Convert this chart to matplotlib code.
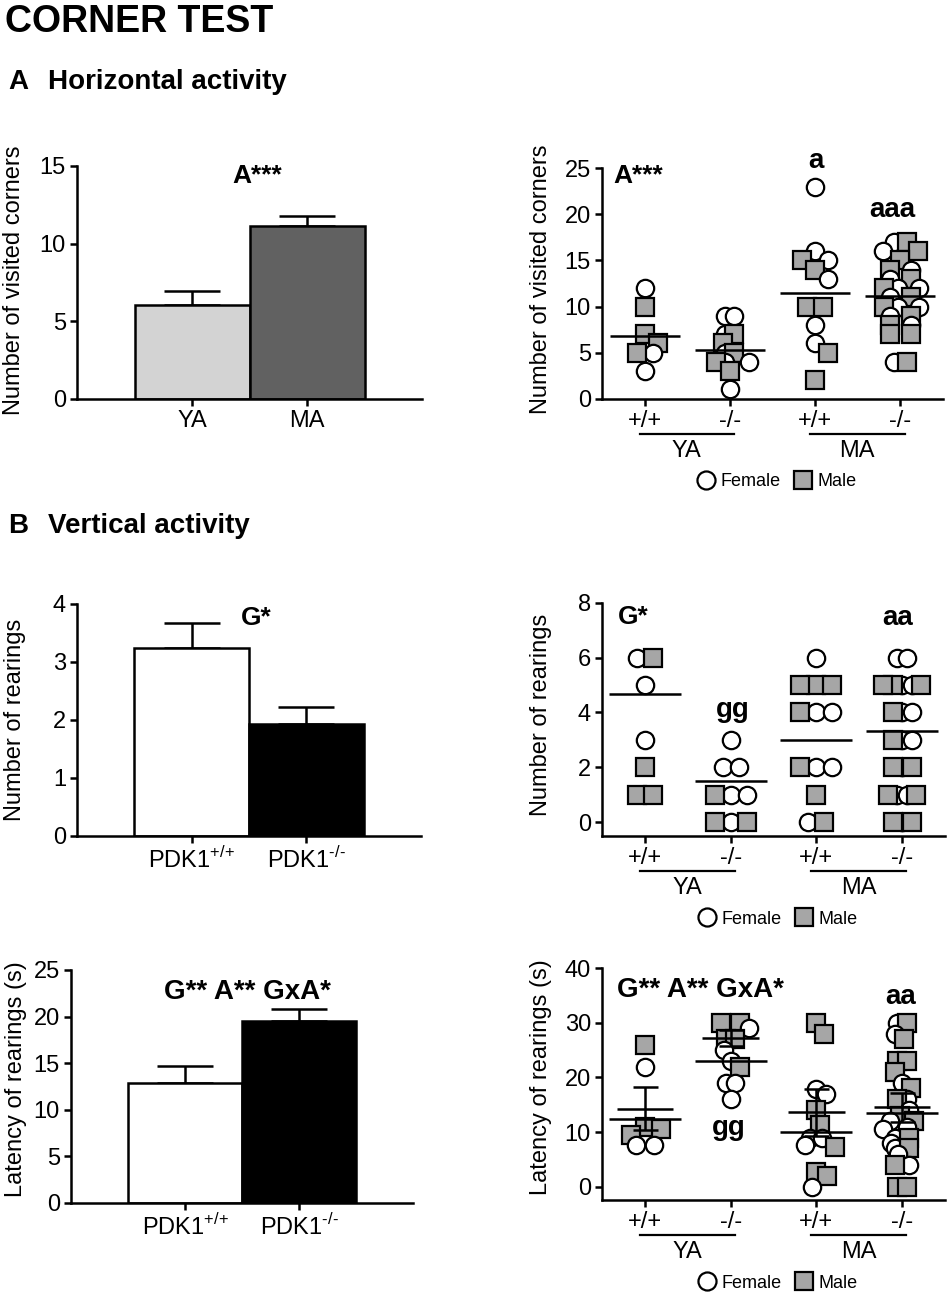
import numpy as np
import matplotlib
matplotlib.use('Agg')
import matplotlib.pyplot as plt
from matplotlib.lines import Line2D

plt.rcParams['font.family'] = ['Liberation Sans', 'DejaVu Sans']
plt.rcParams['mathtext.fontset'] = 'custom'
plt.rcParams['mathtext.rm'] = 'Liberation Sans'
plt.rcParams['mathtext.bf'] = 'Liberation Sans:bold'

# ---- data ----
age_labels = ['YA', 'MA']
geno_labels = [r'PDK1$^{\text{+/+}}$', r'PDK1$^{\text{-/-}}$']
group_ticks = ['+/+', '-/-', '+/+', '-/-']

corners_bar = [6.05, 11.14]
corners_bar_sem = [0.92, 0.64]
rear_bar = [3.25, 1.93]
rear_bar_sem = [0.42, 0.30]
lat_bar = [12.9, 19.5]
lat_bar_sem = [1.8, 1.3]

# per group: YA +/+, YA -/-, MA +/+, MA -/-
corners_f = [[12, 5, 3], [9, 9, 7, 5, 4, 4, 1], [23, 16, 15, 13, 8, 6],
             [17, 16, 14, 13, 12, 12, 11, 10, 10, 9, 8, 4]]
corners_m = [[10, 7, 6, 5], [7, 6, 5, 4, 3], [15, 14, 10, 10, 5, 2],
             [17, 16, 15, 14, 13, 12, 11, 10, 9, 8, 7, 7, 4]]

rear_f = [[6, 5, 3], [3, 2, 2, 1, 1, 0], [6, 4, 4, 2, 2, 0],
          [6, 6, 5, 5, 4, 4, 3, 3, 2, 1, 1, 0]]
rear_m = [[6, 2, 1, 1], [1, 0, 0], [5, 5, 5, 4, 2, 1, 0],
          [5, 5, 5, 4, 3, 2, 2, 1, 1, 0, 0]]

lat_f = [[22, 7.6, 7.6], [30, 29, 25, 23, 19, 19, 16], [17.8, 17, 8.9, 8.9, 7.6, 0],
         [30, 28, 19, 16, 14, 12, 11, 10.5, 9, 8, 7, 6, 4]]
lat_m = [[26, 11, 10.5, 9.5], [30, 30, 27, 27, 22], [30, 28, 14, 11.3, 7.3, 2.7, 2],
         [30, 27, 23, 23, 21, 18, 16, 13, 12, 9, 7, 4, 0, 0]]

W, H = 949, 1300
fig = plt.figure(figsize=(W / 100, H / 100), dpi=100)
fig.patch.set_facecolor('white')

LW = 1.8
FS = 17
MALE = '#a6a6a6'


def add_ax(x0, x1, ytop, ybot):
    ax = fig.add_axes([x0 / W, 1 - ybot / H, (x1 - x0) / W, (ybot - ytop) / H])
    for s in ['top', 'right']:
        ax.spines[s].set_visible(False)
    for s in ['left', 'bottom']:
        ax.spines[s].set_linewidth(LW)
    ax.tick_params(direction='out', length=5, width=LW, labelsize=FS, pad=3)
    return ax


def ftext(x, y, s, **kw):
    fig.text(x / W, 1 - y / H, s, **kw)


def swarm(vals, ax, d_px=16, maxw=0.22):
    bb = ax.get_position()
    x0, x1 = ax.get_xlim()
    y0, y1 = ax.get_ylim()
    sx = bb.width * W / (x1 - x0)
    sy = bb.height * H / (y1 - y0)
    placed = []
    for v in vals:
        y = v * sy
        cands = [0.0]
        for px, py in placed:
            dy = abs(y - py)
            if dy < d_px:
                dx = np.sqrt(d_px ** 2 - dy ** 2)
                cands += [px + dx, px - dx]
        cands.sort(key=abs)
        for c in cands:
            if all((c - px) ** 2 + (y - py) ** 2 >= d_px ** 2 - 1e-6 for px, py in placed):
                break
        placed.append((c, y))
    offs = np.array([p[0] for p in placed])
    # centre rows of tied values, as the original software does
    vals = np.asarray(vals, dtype=float)
    for u in np.unique(vals):
        idx = np.where(vals == u)[0]
        if len(idx) > 1:
            offs[idx] -= offs[idx].mean()
    offs = offs / sx
    m = np.abs(offs).max()
    if m > maxw:
        offs = offs * maxw / m
    return offs


def bar_panel(ax, vals, sems, colors, labels, ymax, step):
    x = np.arange(len(vals))
    ax.bar(x, vals, width=1.0, color=colors, edgecolor='black', linewidth=LW, zorder=2)
    ax.errorbar(x, vals, yerr=[np.zeros(len(vals)), sems], fmt='none', ecolor='black',
                elinewidth=LW, capsize=20, capthick=LW, zorder=1)
    ax.set_xlim(-1, 2)
    ax.set_ylim(0, ymax)
    ax.set_yticks(np.arange(0, ymax + 0.01, step))
    ax.set_xticks(x)
    ax.set_xticklabels(labels)


def scatter_panel(ax, fem, mal, ylo, yhi, step, mean_mode):
    ax.set_xlim(-0.5, 3.5)
    ax.set_ylim(ylo, yhi)
    ax.set_yticks(np.arange(0, yhi + 0.01, step))
    ax.set_xticks(range(4))
    ax.set_xticklabels(group_ticks)
    ax.spines['left'].set_bounds(ylo, yhi)
    for i in range(4):
        vals = list(fem[i]) + list(mal[i])
        sex = ['f'] * len(fem[i]) + ['m'] * len(mal[i])
        order = sorted(range(len(vals)), key=lambda k: -vals[k])
        v_sorted = [vals[k] for k in order]
        offs = swarm(v_sorted, ax)
        for k, o in zip(order, offs):
            if sex[k] == 'f':
                ax.plot(i + o, vals[k], 'o', ms=12.5, mfc='white', mec='black', mew=1.6, zorder=3)
            else:
                ax.plot(i + o, vals[k], 's', ms=12.5, mfc=MALE, mec='black', mew=1.6, zorder=3)
        if mean_mode == 'all':
            ax.hlines(np.mean(vals), i - 0.41, i + 0.41, color='black', lw=LW, zorder=5)
        elif mean_mode == 'female':
            ax.hlines(np.mean(fem[i]), i - 0.42, i + 0.42, color='black', lw=LW, zorder=5)
        else:
            ax.hlines(np.mean(fem[i]), i - 0.42, i + 0.42, color='black', lw=LW, zorder=5)
            mm = np.mean(mal[i])
            sem = np.std(mal[i], ddof=1) / np.sqrt(len(mal[i]))
            ax.hlines(mm, i - 0.33, i + 0.33, color='black', lw=LW, zorder=5)
            ax.errorbar(i, mm, yerr=sem, fmt='none', ecolor='black', elinewidth=LW,
                        capsize=9, capthick=LW, zorder=5)
    # age group lines and labels below the axis
    bb = ax.get_position()
    hpx = bb.height * H
    tr = ax.get_xaxis_transform()
    for g, (a, b) in enumerate([(-0.06, 1.05), (1.94, 3.05)]):
        ax.plot([a, b], [-35 / hpx] * 2, color='black', lw=1.6, transform=tr, clip_on=False)
        ax.text((a + b) / 2, -52 / hpx, age_labels[g], transform=tr, ha='center', va='center',
                fontsize=FS)
    handles = [Line2D([], [], marker='o', ls='none', ms=13, mfc='white', mec='black', mew=1.6),
               Line2D([], [], marker='s', ls='none', ms=13, mfc=MALE, mec='black', mew=1.6)]
    ax.legend(handles, ['Female', 'Male'], loc='center', bbox_to_anchor=(0.51, -83 / hpx),
              ncol=2, frameon=False, fontsize=13, handletextpad=0.2, columnspacing=0.6,
              handlelength=1.2)


# ---- titles ----
ftext(5, 32, 'CORNER TEST', fontsize=27, fontweight='bold', va='baseline')
ftext(8, 89, 'A', fontsize=20, fontweight='bold', va='baseline')
ftext(48, 89, 'Horizontal activity', fontsize=20, fontweight='bold', va='baseline')
ftext(8, 533, 'B', fontsize=20, fontweight='bold', va='baseline')
ftext(48, 533, 'Vertical activity', fontsize=20, fontweight='bold', va='baseline')

# ---- A left ----
ax1 = add_ax(77, 422, 166, 399)
bar_panel(ax1, corners_bar, corners_bar_sem, ['#d3d3d3', '#616161'], age_labels, 15, 5)
ax1.set_ylabel('Number of visited corners', fontsize=FS)
ax1.yaxis.set_label_coords(-0.15, 0.51)
ftext(232, 183, 'A***', fontsize=19, fontweight='bold', va='baseline')

# ---- A right ----
ax2 = add_ax(602, 943, 168.3, 398.7)
scatter_panel(ax2, corners_f, corners_m, 0, 25, 5, 'all')
ax2.set_ylabel('Number of visited corners', fontsize=FS)
ax2.yaxis.set_label_coords(-0.147, 0.52)
ftext(613, 183, 'A***', fontsize=19, fontweight='bold', va='baseline')
ftext(816, 168, 'a', fontsize=20, fontweight='bold', va='baseline', ha='center')
ftext(892, 217, 'aaa', fontsize=20, fontweight='bold', va='baseline', ha='center')

# ---- B left top ----
ax3 = add_ax(77, 421, 604, 836)
bar_panel(ax3, rear_bar, rear_bar_sem, ['white', 'black'], geno_labels, 4, 1)
ax3.set_ylabel('Number of rearings', fontsize=FS)
ax3.yaxis.set_label_coords(-0.147, 0.5)
ftext(241, 625, 'G*', fontsize=19, fontweight='bold', va='baseline')

# ---- B right top ----
ax4 = add_ax(602, 945, 602.7, 836)
scatter_panel(ax4, rear_f, rear_m, -0.5, 8, 2, 'female')
ax4.set_ylabel('Number of rearings', fontsize=FS)
ax4.yaxis.set_label_coords(-0.147, 0.52)
ftext(618, 624, 'G*', fontsize=19, fontweight='bold', va='baseline')
ftext(733, 717, 'gg', fontsize=20, fontweight='bold', va='baseline', ha='center')
ftext(898, 625, 'aa', fontsize=20, fontweight='bold', va='baseline', ha='center')

# ---- B left bottom ----
ax5 = add_ax(71, 413, 970, 1202.7)
bar_panel(ax5, lat_bar, lat_bar_sem, ['white', 'black'], geno_labels, 25, 5)
ax5.set_ylabel('Latency of rearings (s)', fontsize=FS)
ax5.yaxis.set_label_coords(-0.128, 0.53)
ftext(164, 999, 'G** A** GxA*', fontsize=20, fontweight='bold', va='baseline')

# ---- B right bottom ----
ax6 = add_ax(602, 945, 968.3, 1200)
scatter_panel(ax6, lat_f, lat_m, -2.45, 40, 10, 'both')
ax6.set_ylabel('Latency of rearings (s)', fontsize=FS)
ax6.yaxis.set_label_coords(-0.147, 0.53)
ftext(617, 997, 'G** A** GxA*', fontsize=20, fontweight='bold', va='baseline')
ftext(901, 1004, 'aa', fontsize=20, fontweight='bold', va='baseline', ha='center')
ftext(729, 1135, 'gg', fontsize=20, fontweight='bold', va='baseline', ha='center')

fig.savefig('out.png', dpi=100, facecolor='white')
